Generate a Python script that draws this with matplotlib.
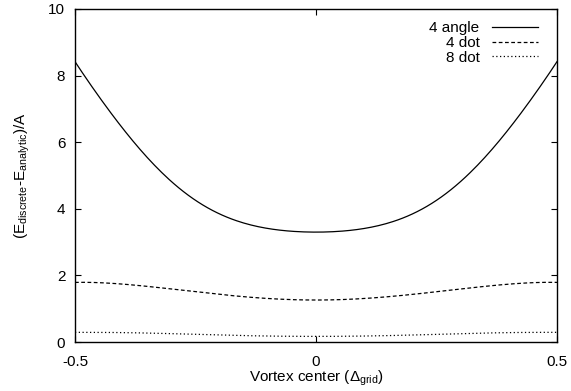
import numpy as np
import matplotlib
matplotlib.use("Agg")
import matplotlib.pyplot as plt

plt.rcParams['font.family'] = ['Liberation Sans', 'DejaVu Sans']
plt.rcParams['mathtext.fontset'] = 'custom'
plt.rcParams['mathtext.rm'] = 'Liberation Sans'
plt.rcParams['mathtext.it'] = 'Liberation Sans'

# values, half curve (x <= 0), mirrored below
x_half = [-0.5, -0.45, -0.4, -0.35, -0.3, -0.25, -0.2, -0.15, -0.1, -0.05, 0.0]
angle4_half = [8.42, 7.36, 6.40, 5.54, 4.82, 4.25, 3.84, 3.58, 3.42, 3.32, 3.29]
dot4_half = [1.79, 1.78, 1.74, 1.67, 1.59, 1.51, 1.43, 1.36, 1.31, 1.27, 1.26]
dot8_half = [0.29, 0.29, 0.28, 0.27, 0.25, 0.23, 0.21, 0.19, 0.18, 0.17, 0.17]

labels = ["4 angle", "4 dot", "8 dot"]
x_ticks = [-0.5, 0, 0.5]
x_tick_labels = ["-0.5", "0", "0.5"]
y_ticks = [0, 2, 4, 6, 8, 10]


def mirror(xs, ys):
    xs = np.array(xs)
    ys = np.array(ys)
    return np.concatenate([xs, -xs[-2::-1]]), np.concatenate([ys, ys[-2::-1]])


fig = plt.figure(figsize=(5.71, 3.91), dpi=100)
ax = fig.add_axes([75 / 571, 1 - 342 / 391, 482 / 571, 333 / 391])

styles = [dict(ls='-'), dict(ls=(0, (3, 2))), dict(ls=(0, (1, 2)))]
for ys, lab, st in zip([angle4_half, dot4_half, dot8_half], labels, styles):
    xx, yy = mirror(x_half, ys)
    # smooth through the read points
    xf = np.linspace(-0.5, 0.5, 201)
    coef = np.polyfit(xx, yy, 8)
    ax.plot(xf, np.polyval(coef, xf), color='black', lw=0.9, label=lab, **st)

ax.set_xlim(-0.5, 0.5)
ax.set_ylim(0, 10)
ax.set_xticks(x_ticks)
ax.set_xticklabels(x_tick_labels)
ax.set_yticks(y_ticks)
ax.tick_params(direction='in', length=4, width=0.8, top=True, right=True,
               labelsize=11, colors='black')
ax.tick_params(axis='x', pad=9)
ax.tick_params(axis='y', pad=7)
for sp in ax.spines.values():
    sp.set_linewidth(1.0)

ax.set_xlabel(r'Vortex center ($\Delta_{\rm grid}$)', fontsize=11, labelpad=0)
ax.set_ylabel(r'(E$_{\rm discrete}$-E$_{\rm analytic}$)/A', fontsize=11, labelpad=12)

leg = ax.legend(loc='upper right', frameon=False, fontsize=11, markerfirst=False,
                handlelength=3.0, handletextpad=0.8, labelspacing=0.05,
                borderaxespad=0.4, bbox_to_anchor=(0.985, 1.0))
for t in leg.get_texts():
    t.set_ha('right')
leg._legend_box.align = 'right'

fig.savefig('out.png', dpi=100)
